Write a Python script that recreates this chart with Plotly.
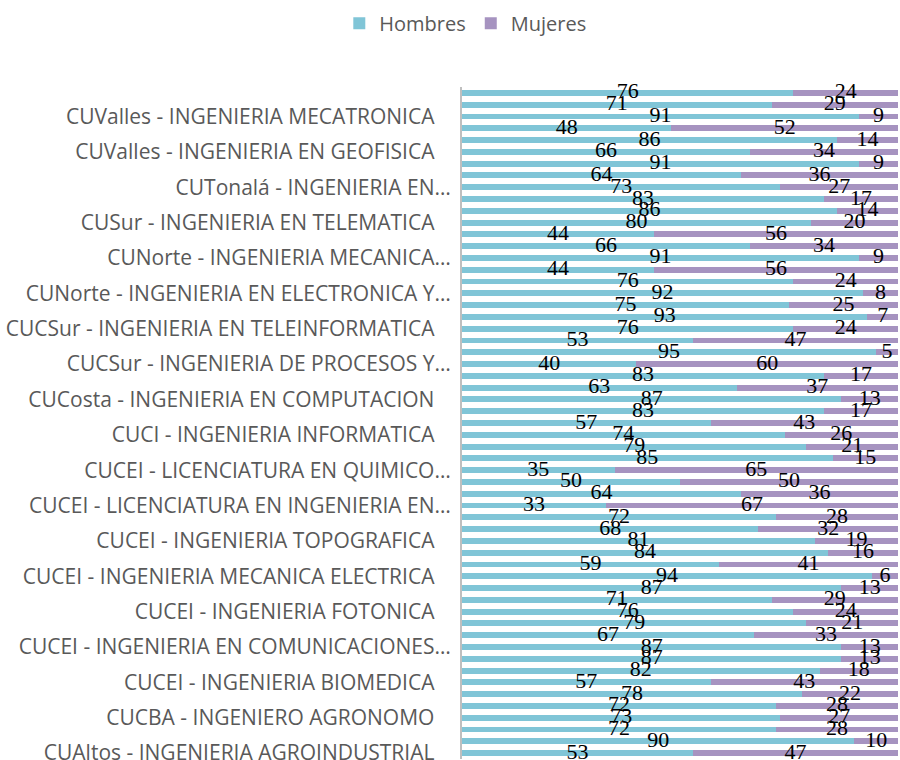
import plotly.graph_objects as go

# bars listed top to bottom
hombres = [76, 71, 91, 48, 86, 66, 91, 64, 73, 83, 86, 80, 44, 66, 91, 44, 76, 92, 75,
           93, 76, 53, 95, 40, 83, 63, 87, 83, 57, 74, 79, 85, 35, 50, 64, 33, 72, 68,
           81, 84, 59, 94, 87, 71, 76, 79, 67, 87, 87, 82, 57, 78, 72, 73, 72, 90, 53]
mujeres = [24, 29, 9, 52, 14, 34, 9, 36, 27, 17, 14, 20, 56, 34, 9, 56, 24, 8, 25,
           7, 24, 47, 5, 60, 17, 37, 13, 17, 43, 26, 21, 15, 65, 50, 36, 67, 28, 32,
           19, 16, 41, 6, 13, 29, 24, 21, 33, 13, 13, 18, 43, 22, 28, 27, 28, 10, 47]

# only every third bar carries a visible label (from bar 3 downwards)
tick_labels = [
    "CUValles - INGENIERIA MECATRONICA",
    "CUValles - INGENIERIA EN GEOFISICA",
    "CUTonalá - INGENIERIA EN…",
    "CUSur - INGENIERIA EN TELEMATICA",
    "CUNorte - INGENIERIA MECANICA…",
    "CUNorte - INGENIERIA EN ELECTRONICA Y…",
    "CUCSur - INGENIERIA EN TELEINFORMATICA",
    "CUCSur - INGENIERIA DE PROCESOS Y…",
    "CUCosta - INGENIERIA EN COMPUTACION",
    "CUCI - INGENIERIA INFORMATICA",
    "CUCEI - LICENCIATURA EN QUIMICO…",
    "CUCEI - LICENCIATURA EN INGENIERIA EN…",
    "CUCEI - INGENIERIA TOPOGRAFICA",
    "CUCEI - INGENIERIA MECANICA ELECTRICA",
    "CUCEI - INGENIERIA FOTONICA",
    "CUCEI - INGENIERIA EN COMUNICACIONES…",
    "CUCEI - INGENIERIA BIOMEDICA",
    "CUCBA - INGENIERO AGRONOMO",
    "CUAltos - INGENIERIA AGROINDUSTRIAL",
]

blue = "#80C5D7"
purple = "#A693C0"

pos = list(range(len(hombres)))
tick_pos = pos[2::3]
# labels without ellipsis keep a trailing gap like the original
tick_text = [t if t.endswith("…") else t + "\u00a0\u00a0\u00a0" for t in tick_labels]

fig = go.Figure()
fig.add_trace(go.Bar(y=pos, x=hombres, name="Hombres", orientation="h",
                     marker=dict(color=blue, line=dict(width=0))))
fig.add_trace(go.Bar(y=pos, x=mujeres, name="Mujeres", orientation="h",
                     marker=dict(color=purple, line=dict(width=0))))

label_font = dict(family="Liberation Serif", size=22, color="black")
fig.add_trace(go.Scatter(
    y=pos, x=[h / 2 for h in hombres], text=[str(h) for h in hombres],
    mode="text", textfont=label_font, showlegend=False, hoverinfo="skip",
    cliponaxis=False))
fig.add_trace(go.Scatter(
    y=pos, x=[h + m / 2 for h, m in zip(hombres, mujeres)], text=[str(m) for m in mujeres],
    mode="text", textfont=label_font, showlegend=False, hoverinfo="skip",
    cliponaxis=False))

fig.update_layout(
    width=900, height=760,
    barmode="stack", bargap=0.5,
    plot_bgcolor="white", paper_bgcolor="white",
    margin=dict(l=462, r=2, t=87, b=1, autoexpand=False),
    font=dict(family="Open Sans", color="#595959", size=21),
    legend=dict(orientation="h", x=0.517, xref="container", xanchor="center",
                y=0.995, yref="container", yanchor="top",
                font=dict(size=20, color="#595959"),
                traceorder="normal", itemwidth=30),
    xaxis=dict(range=[0, 100], visible=False, fixedrange=True),
    yaxis=dict(range=[len(hombres) - 0.5, -0.5], tickmode="array",
               tickvals=tick_pos, ticktext=tick_text, showline=True,
               linecolor="#BFBFBF", linewidth=2, showgrid=False, zeroline=False,
               ticks="", ticklabelstandoff=5, automargin=False,
               ticklabeloverflow="allow"),
)

fig.write_html("out.html", config={"displayModeBar": False},
               post_script="document.body.style.margin='0';")
